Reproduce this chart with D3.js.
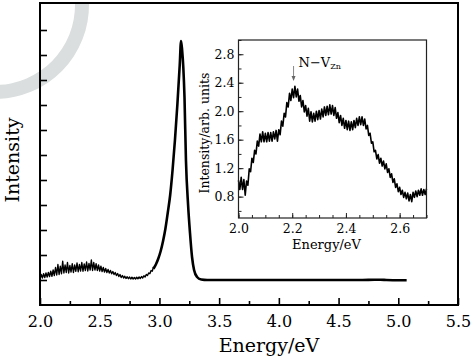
<!DOCTYPE html>
<html><head><meta charset="utf-8">
<script src="https://cdn.jsdelivr.net/npm/d3@7/dist/d3.min.js"></script>
<style>body{margin:0;background:#fff}svg{display:block}</style>
</head><body>
<svg id="c" width="474" height="358"></svg>
<script>
// ---- Main spectrum: noisy low-energy region (2.00–2.95 eV, step 0.01)
const lowStart = 2.00, lowStep = 0.01;
const lowValues = [1.05,1.22,1.08,1.25,1.10,1.28,1.12,1.30,1.14,1.35,1.15,1.40,1.18,1.50,1.20,1.62,1.22,1.55,1.25,1.75,
1.28,1.60,1.30,1.70,1.28,1.58,1.32,1.65,1.30,1.60,1.35,1.68,1.33,1.62,1.36,1.70,1.35,1.64,1.38,1.72,
1.36,1.66,1.40,1.80,1.38,1.70,1.40,1.65,1.38,1.60,1.36,1.55,1.34,1.50,1.32,1.46,1.30,1.42,1.28,1.38,
1.25,1.34,1.22,1.30,1.18,1.26,1.14,1.22,1.10,1.18,1.08,1.15,1.06,1.13,1.05,1.12,1.04,1.11,1.04,1.10,
1.04,1.11,1.05,1.12,1.06,1.14,1.08,1.17,1.12,1.22,1.18,1.28,1.25,1.38,1.35,1.52];
// ---- Main spectrum: band-edge peak and flat tail
const peakEnergy = [2.95,2.97,2.99,3.01,3.03,3.05,3.07,3.09,3.11,3.13,3.15,3.17,3.181,3.19,3.20,3.21,3.222,3.24,3.256,3.273,3.29,3.315,3.35,3.40,3.6,4.0,4.4,4.7,4.8,4.85,4.9,5.0,5.07];
const peakValues = [1.45,1.62,1.85,2.15,2.55,3.05,3.70,4.40,5.40,6.60,8.00,9.60,10.56,10.20,9.50,8.30,5.80,4.00,2.88,1.92,1.40,1.12,1.02,1.00,1.00,1.00,1.00,1.00,1.01,1.01,1.00,0.99,0.99];
const mainXTicks = [2.0,2.5,3.0,3.5,4.0,4.5,5.0,5.5];
const mainYTicks = [1,2,3,4,5,6,7,8,9,10,11];

// ---- Inset spectrum (2.00–2.70 eV, step 0.005)
const insetStart = 2.00, insetStep = 0.005;
const insetValues = [1.03,0.90,1.07,0.90,1.04,0.82,1.02,0.96,1.19,1.15,1.34,1.28,1.45,1.40,1.58,1.51,1.68,1.57,1.71,1.57,
1.69,1.57,1.70,1.58,1.70,1.58,1.71,1.61,1.73,1.58,1.74,1.67,1.86,1.79,1.97,1.92,2.12,2.06,2.25,2.15,
2.31,2.19,2.35,2.20,2.31,2.14,2.22,2.06,2.15,1.99,2.08,1.93,2.04,1.86,1.99,1.85,1.97,1.86,2.00,1.88,
2.01,1.89,2.03,1.92,2.06,1.94,2.07,1.95,2.09,1.96,2.08,1.94,2.05,1.90,1.98,1.84,1.94,1.80,1.90,1.76,
1.87,1.74,1.86,1.73,1.85,1.74,1.87,1.77,1.90,1.80,1.92,1.81,1.92,1.80,1.89,1.75,1.80,1.66,1.69,1.55,
1.57,1.43,1.45,1.33,1.39,1.27,1.34,1.23,1.30,1.19,1.26,1.14,1.19,1.07,1.12,1.00,1.05,0.93,0.98,0.87,
0.93,0.83,0.89,0.79,0.86,0.77,0.85,0.74,0.83,0.73,0.86,0.79,0.88,0.80,0.89,0.82,0.91,0.82,0.90,0.83,0.91];
const insetXTicks = [2.0,2.2,2.4,2.6];
const insetYTicks = [0.8,1.2,1.6,2.0,2.4,2.8];
const annotation = {label:"N\u2212V", sub:"Zn", energy:2.205};

const FONT = "'DejaVu Serif', serif";
const svg = d3.select("#c");

// watermark (decorative)
svg.append("path")
  .attr("transform","translate(-5,5)")
  .attr("d", d3.arc()({innerRadius:80, outerRadius:94, startAngle:1.55, endAngle:3.14}))
  .attr("fill","#dadede");

// ---------- main chart
const M = {l:40, r:458, t:3, b:305};
const x = d3.scaleLinear().domain([2,5.5]).range([M.l,M.r]);
const y = d3.scaleLinear().domain([0,12.08]).range([M.b,M.t]);

const lowData = lowValues.map((v,i)=>[lowStart+i*lowStep, v]);
const peakData = peakEnergy.map((e,i)=>[e, peakValues[i]]);
const line = d3.line().x(d=>x(d[0])).y(d=>y(d[1]));
svg.append("path").attr("d",line(lowData)).attr("fill","none").attr("stroke","#000").attr("stroke-width",1.4).attr("stroke-linejoin","round");
svg.append("path").attr("d",d3.line().x(d=>x(d[0])).y(d=>y(d[1])).curve(d3.curveMonotoneX)(peakData))
  .attr("fill","none").attr("stroke","#000").attr("stroke-width",2.6).attr("stroke-linejoin","round");

// axes
const gx = svg.append("g").attr("transform",`translate(0,${M.b})`)
  .call(d3.axisBottom(x).tickValues(mainXTicks).tickFormat(d3.format(".1f")).tickSize(-7).tickPadding(11));
svg.append("g").attr("transform",`translate(0,${M.b})`)
  .call(d3.axisBottom(x).tickValues(mainXTicks.slice(0,-1).map(v=>v+0.25)).tickFormat("").tickSize(-4))
  .call(g=>g.select(".domain").remove());
const gy = svg.append("g").attr("transform",`translate(${M.l},0)`)
  .call(d3.axisLeft(y).tickValues(mainYTicks).tickFormat("").tickSize(-7));
[gx,gy].forEach(g=>{g.select(".domain").remove();});
svg.selectAll(".tick line").attr("stroke","#000").attr("stroke-width",1.6);
gx.selectAll("text").attr("font-family",FONT).attr("font-size",16).attr("fill","#000");
svg.append("rect").attr("x",M.l).attr("y",M.t).attr("width",M.r-M.l).attr("height",M.b-M.t)
  .attr("fill","none").attr("stroke","#000").attr("stroke-width",2);

svg.append("text").attr("x",(M.l+M.r)/2+20).attr("y",352).attr("text-anchor","middle")
  .attr("font-family",FONT).attr("font-size",19).text("Energy/eV");
svg.append("text").attr("transform",`translate(19,160) rotate(-90)`).attr("text-anchor","middle")
  .attr("font-family",FONT).attr("font-size",19).text("Intensity");

// ---------- inset
const I = {l:238.5, r:426.5, t:40, b:218};
const xi = d3.scaleLinear().domain([2.0,2.7]).range([I.l,I.r]);
const yi = d3.scaleLinear().domain([0.5,3.0]).range([I.b,I.t]);
const inset = svg.append("g");
inset.append("rect").attr("x",I.l).attr("y",I.t).attr("width",I.r-I.l).attr("height",I.b-I.t).attr("fill","#fff");
const insetData = insetValues.map((v,i)=>[insetStart+i*insetStep, v]);
inset.append("path").attr("d",d3.line().x(d=>xi(d[0])).y(d=>yi(d[1]))(insetData))
  .attr("fill","none").attr("stroke","#000").attr("stroke-width",1.6).attr("stroke-linejoin","round");

const ixMinor = d3.range(0,15).map(i=>2.0+i*0.05);
const iyMinor = d3.range(0,13).map(i=>0.6+i*0.2);
const gix = inset.append("g").attr("transform",`translate(0,${I.b})`)
  .call(d3.axisBottom(xi).tickValues(insetXTicks).tickFormat(d3.format(".1f")).tickSize(-5).tickPadding(6));
inset.append("g").attr("transform",`translate(0,${I.b})`)
  .call(d3.axisBottom(xi).tickValues(ixMinor).tickFormat("").tickSize(-3));
const giy = inset.append("g").attr("transform",`translate(${I.l},0)`)
  .call(d3.axisLeft(yi).tickValues(insetYTicks).tickFormat(d3.format(".1f")).tickSize(-5).tickPadding(4));
inset.append("g").attr("transform",`translate(${I.l},0)`)
  .call(d3.axisLeft(yi).tickValues(iyMinor).tickFormat("").tickSize(-3));
inset.selectAll(".domain").remove();
inset.selectAll(".tick line").attr("stroke","#222").attr("stroke-width",1);
inset.selectAll("text").attr("font-family",FONT).attr("font-size",12.5).attr("fill","#000");
inset.append("rect").attr("x",I.l).attr("y",I.t).attr("width",I.r-I.l).attr("height",I.b-I.t)
  .attr("fill","none").attr("stroke","#222").attr("stroke-width",1.2);

inset.append("text").attr("x",(I.l+I.r)/2-6).attr("y",249).attr("text-anchor","middle")
  .attr("font-family",FONT).attr("font-size",13).text("Energy/eV");
inset.append("text").attr("transform",`translate(209,${(I.t+I.b)/2+4}) rotate(-90)`).attr("text-anchor","middle")
  .attr("font-family",FONT).attr("font-size",12.5).text("Intensity/arb. units");

// annotation
const ax = xi(annotation.energy);
inset.append("line").attr("x1",ax).attr("x2",ax).attr("y1",66).attr("y2",79).attr("stroke","#888").attr("stroke-width",1);
inset.append("path").attr("d",`M${ax-2},76 L${ax+2},76 L${ax},81 Z`).attr("fill","#666");
const t = inset.append("text").attr("x",ax+5).attr("y",67).attr("font-family",FONT).attr("font-size",13).text(annotation.label);
t.append("tspan").attr("font-size",8).attr("dy",2).text(annotation.sub);
</script>
</body></html>
